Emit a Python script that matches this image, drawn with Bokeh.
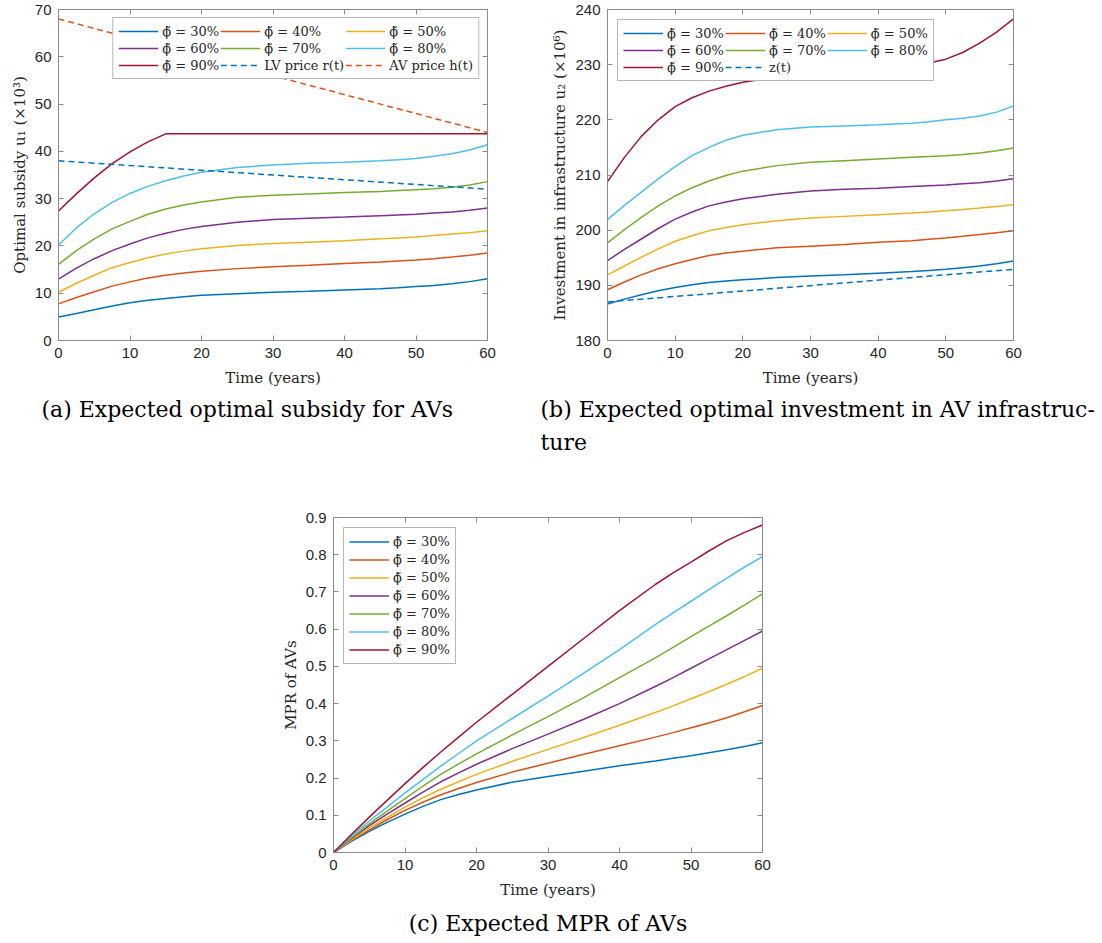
from bokeh.plotting import figure
from bokeh.models import Range1d, LinearAxis, FixedTicker, Legend, LegendItem, Title
from bokeh.layouts import column, row
from bokeh.embed import file_html
from bokeh.resources import INLINE

# ---------------- data ----------------
t = [0, 2.5, 5, 7.5, 10, 12.5, 15, 17.5, 20, 25, 30, 35, 40, 45, 47.5, 50, 52.5, 55, 57.5, 60]
phi_labels = ["30%", "40%", "50%", "60%", "70%", "80%", "90%"]

# (a) optimal subsidy u1 (x10^3)
u1_30 = [4.95, 5.7, 6.5, 7.3, 7.96, 8.5, 8.9, 9.25, 9.56, 9.9, 10.2, 10.4, 10.7, 10.96, 11.15, 11.4, 11.65, 12.0, 12.45, 13.05]
u1_40 = [7.75, 9.1, 10.3, 11.5, 12.4, 13.2, 13.8, 14.25, 14.65, 15.2, 15.6, 15.9, 16.3, 16.6, 16.8, 17.0, 17.3, 17.65, 18.05, 18.5]
u1_50 = [10.2, 12.1, 13.8, 15.4, 16.5, 17.5, 18.3, 18.9, 19.4, 20.1, 20.5, 20.8, 21.1, 21.5, 21.7, 21.9, 22.2, 22.5, 22.8, 23.2]
u1_60 = [13.0, 15.3, 17.3, 19.0, 20.4, 21.7, 22.7, 23.5, 24.1, 25.0, 25.6, 25.85, 26.1, 26.4, 26.55, 26.7, 26.95, 27.2, 27.55, 28.0]
u1_70 = [16.1, 19.0, 21.5, 23.6, 25.2, 26.7, 27.8, 28.65, 29.3, 30.3, 30.7, 31.0, 31.3, 31.5, 31.7, 31.9, 32.1, 32.4, 32.9, 33.6]
u1_80 = [20.2, 23.8, 26.8, 29.2, 31.1, 32.6, 33.8, 34.8, 35.6, 36.6, 37.1, 37.5, 37.7, 38.0, 38.2, 38.5, 38.95, 39.5, 40.3, 41.4]
u1_90 = [27.4, 31.0, 34.4, 37.4, 39.9, 42.0, 43.7, 43.7, 43.7, 43.7, 43.7, 43.7, 43.7, 43.7, 43.7, 43.7, 43.7, 43.7, 43.7, 43.7]
price_t = [0, 60]
lv_price = [38.0, 32.0]
av_price = [68.0, 44.0]

# (b) investment u2 (x10^6)
u2_30 = [186.6, 187.5, 188.3, 189.0, 189.6, 190.1, 190.5, 190.8, 191.0, 191.4, 191.7, 191.9, 192.2, 192.5, 192.7, 192.9, 193.2, 193.5, 193.9, 194.4]
u2_40 = [189.2, 190.6, 191.9, 193.0, 193.9, 194.7, 195.4, 195.85, 196.2, 196.8, 197.1, 197.4, 197.8, 198.1, 198.35, 198.6, 198.9, 199.2, 199.55, 199.9]
u2_50 = [191.9, 193.5, 195.1, 196.6, 198.0, 199.0, 199.9, 200.5, 201.0, 201.7, 202.2, 202.5, 202.8, 203.1, 203.3, 203.5, 203.75, 204.0, 204.3, 204.6]
u2_60 = [194.5, 196.5, 198.4, 200.3, 202.0, 203.3, 204.4, 205.1, 205.7, 206.5, 207.1, 207.4, 207.6, 207.9, 208.05, 208.2, 208.4, 208.6, 208.9, 209.3]
u2_70 = [197.7, 200.1, 202.3, 204.4, 206.2, 207.7, 208.9, 209.9, 210.7, 211.7, 212.3, 212.6, 212.9, 213.2, 213.35, 213.5, 213.7, 214.0, 214.4, 214.9]
u2_80 = [201.9, 204.5, 206.9, 209.3, 211.5, 213.5, 215.0, 216.3, 217.2, 218.2, 218.7, 218.9, 219.1, 219.4, 219.65, 220.0, 220.3, 220.7, 221.4, 222.5]
u2_90 = [208.8, 213.2, 217.0, 220.0, 222.4, 224.0, 225.2, 226.1, 226.8, 227.8, 228.4, 228.9, 229.3, 229.8, 230.3, 231.0, 232.2, 233.9, 235.9, 238.3]
z_t = [0, 60]
z_vals = [187.0, 192.9]

# (c) MPR of AVs
m_30 = [0, .030, .057, .081, .103, .124, .142, .156, .168, .189, .204, .218, .233, .246, .253, .260, .268, .276, .285, .295]
m_40 = [0, .032, .061, .088, .113, .135, .155, .172, .188, .216, .240, .264, .287, .310, .322, .335, .348, .362, .378, .395]
m_50 = [0, .034, .066, .094, .122, .147, .170, .190, .210, .245, .277, .309, .342, .376, .394, .413, .432, .452, .473, .495]
m_60 = [0, .037, .072, .103, .133, .162, .190, .214, .237, .279, .318, .358, .400, .446, .470, .495, .520, .545, .570, .595]
m_70 = [0, .039, .077, .111, .145, .178, .210, .238, .265, .316, .365, .416, .470, .523, .551, .580, .608, .636, .665, .695]
m_80 = [0, .043, .085, .122, .160, .196, .232, .266, .300, .360, .420, .482, .545, .612, .644, .675, .706, .737, .767, .795]
m_90 = [0, .048, .095, .140, .185, .228, .270, .310, .350, .425, .500, .575, .650, .720, .751, .780, .810, .838, .860, .880]

x_ticks = [0, 10, 20, 30, 40, 50, 60]
a_ticks = [0, 10, 20, 30, 40, 50, 60, 70]
b_ticks = [180, 190, 200, 210, 220, 230, 240]
c_ticks = [0, 0.1, 0.2, 0.3, 0.4, 0.5, 0.6, 0.7, 0.8, 0.9]

colors = ["#0072BD", "#D95319", "#EDB120", "#7E2F8E", "#77AC30", "#4DBEEE", "#A2142F"]

SERIF = "DejaVu Serif"
SANS = "Liberation Sans"
AXC = "#8a8a8a"
TXC = "#262626"


def style_axis(ax, ticks, show_labels=True):
    ax.axis_line_color = AXC
    ax.axis_line_width = 1
    ax.major_tick_line_color = AXC
    ax.major_tick_in = 5
    ax.major_tick_out = 0
    ax.minor_tick_line_color = None
    ax.major_label_text_font = SANS
    ax.major_label_text_color = TXC
    ax.major_label_text_font_size = "15px"
    ax.axis_label_text_font = SERIF
    ax.axis_label_text_font_style = "normal"
    ax.axis_label_text_font_size = "15px"
    ax.axis_label_text_color = TXC
    if show_labels:
        ax.major_label_standoff = 7
    else:
        ax.major_label_standoff = 0
        ax.major_label_overrides = {v: "" for v in ticks}


def make_panel(fw, fh, left, right, top, bottom, yr, yticks, ylabel):
    p = figure(frame_width=fw, frame_height=fh, min_border_left=left, min_border_right=right,
               min_border_top=top, min_border_bottom=bottom,
               x_range=Range1d(0, 60), y_range=Range1d(*yr),
               output_backend="svg", toolbar_location=None,
               background_fill_color="white", border_fill_color="white")
    p.outline_line_color = None
    p.xgrid.grid_line_color = None
    p.ygrid.grid_line_color = None
    p.xaxis.ticker = FixedTicker(ticks=x_ticks)
    p.yaxis.ticker = FixedTicker(ticks=yticks)
    for ax in p.xaxis:
        style_axis(ax, x_ticks)
    for ax in p.yaxis:
        style_axis(ax, yticks)
    p.xaxis.axis_label = "Time (years)"
    p.xaxis.axis_label_standoff = 8
    p.yaxis.axis_label = ylabel
    p.yaxis.axis_label_standoff = 3
    ax_r = LinearAxis(ticker=FixedTicker(ticks=yticks))
    style_axis(ax_r, yticks, False)
    p.add_layout(ax_r, "right")
    ax_t = LinearAxis(ticker=FixedTicker(ticks=x_ticks))
    style_axis(ax_t, x_ticks, False)
    p.add_layout(ax_t, "above")
    return p


def style_legend(lg):
    lg.label_text_font = SERIF
    lg.label_text_font_size = "13px"
    lg.label_text_color = TXC
    lg.glyph_width = 40
    lg.glyph_height = 16
    lg.label_height = 16
    lg.label_standoff = 4
    lg.spacing = 1
    lg.padding = 5
    lg.border_line_color = "#707070"
    lg.border_line_width = 1
    lg.background_fill_color = "white"
    lg.background_fill_alpha = 1.0


def phi_label(s):
    return "\u03d5\u0303 = " + s


def caption(text, align, offset, standoff):
    return Title(text=text, align=align, offset=offset, text_font=SERIF, text_font_size="22px",
                 text_font_style="normal", text_color="black", standoff=standoff)


# ---------------- panel (a) ----------------
pa = make_panel(429, 331, 58, 30, 9, 120, (0, 70), a_ticks, "Optimal subsidy u\u2081 (\u00d710\u00b3)")
series_a = [u1_30, u1_40, u1_50, u1_60, u1_70, u1_80, u1_90]
items_a = []
for ys, c, lab in zip(series_a, colors, phi_labels):
    r = pa.line(t, ys, line_color=c, line_width=1.5)
    items_a.append(LegendItem(label=phi_label(lab), renderers=[r]))
r_lv = pa.line(price_t, lv_price, line_color=colors[0], line_width=1.5, line_dash="6 4")
r_av = pa.line(price_t, av_price, line_color=colors[1], line_width=1.5, line_dash="6 4")
items_a.append(LegendItem(label="LV price r(t)", renderers=[r_lv]))
items_a.append(LegendItem(label="AV price h(t)", renderers=[r_av]))
lga = Legend(items=items_a, location="top_right", orientation="horizontal", ncols=3, margin=8)
style_legend(lga)
pa.add_layout(lga)
pa.add_layout(caption("(a) Expected optimal subsidy for AVs", "left", -17, 11), "below")

# ---------------- panel (b) ----------------
pb = make_panel(406, 331, 90, 89, 9, 120, (180, 240), b_ticks,
                "Investment in infrastructure u\u2082 (\u00d710\u2076)")
series_b = [u2_30, u2_40, u2_50, u2_60, u2_70, u2_80, u2_90]
items_b = []
for ys, c, lab in zip(series_b, colors, phi_labels):
    r = pb.line(t, ys, line_color=c, line_width=1.5)
    items_b.append(LegendItem(label=phi_label(lab), renderers=[r]))
r_z = pb.line(z_t, z_vals, line_color=colors[0], line_width=1.5, line_dash="6 4")
items_b.append(LegendItem(label="z(t)", renderers=[r_z]))
lgb = Legend(items=items_b, location="top_left", orientation="horizontal", ncols=3, margin=10)
style_legend(lgb)
pb.add_layout(lgb)
pb.add_layout(caption("(b) Expected optimal investment in AV infrastruc-", "left", -67, 11), "below")
pb.add_layout(caption("ture", "left", -67, 0), "below")

# ---------------- panel (c) ----------------
pc = make_panel(429, 335, 333, 340, 57, 91, (0, 0.9), c_ticks, "MPR of AVs")
pc.yaxis[0].major_label_overrides = {0: "0"}
series_c = [m_30, m_40, m_50, m_60, m_70, m_80, m_90]
items_c = []
for ys, c, lab in zip(series_c, colors, phi_labels):
    r = pc.line(t, ys, line_color=c, line_width=1.5)
    items_c.append(LegendItem(label=phi_label(lab), renderers=[r]))
lgc = Legend(items=items_c, location="top_left", margin=10)
style_legend(lgc)
lgc.label_height = 17
lgc.glyph_height = 17
pc.add_layout(lgc)
pc.add_layout(caption("(c) Expected MPR of AVs", "center", 0, 15), "below")

layout = column(row(pa, pb, spacing=0), pc, spacing=0)
open("out.html", "w").write(file_html(layout, INLINE))
